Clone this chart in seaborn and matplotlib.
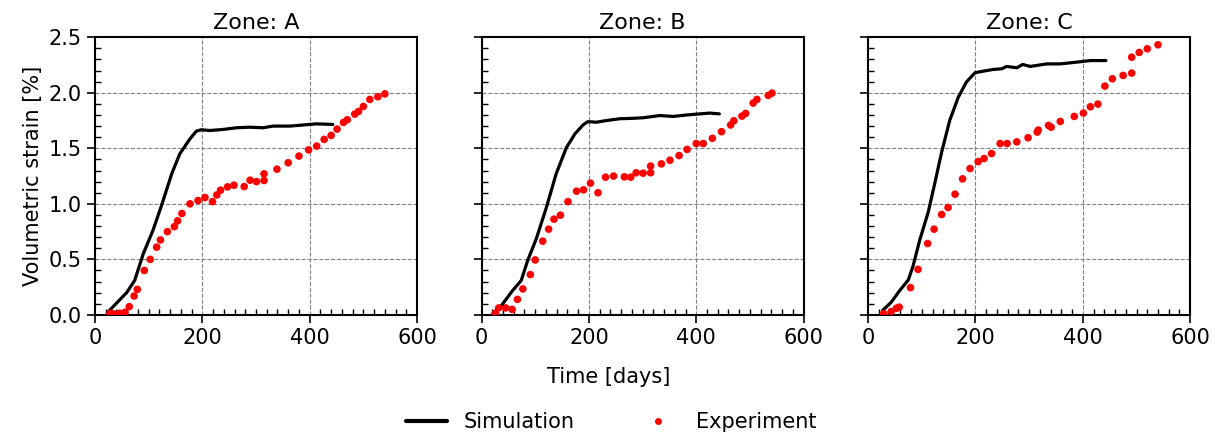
import numpy as np
import pandas as pd
import matplotlib
matplotlib.use("Agg")
import matplotlib.pyplot as plt
import seaborn as sns
from matplotlib.ticker import MultipleLocator
from matplotlib.lines import Line2D

# ---- datos ----
zonas = ["A", "B", "C"]

sim_t_A = [25, 40, 59, 74, 90, 108, 124, 143, 158, 177, 189, 198, 214, 239, 264, 288, 313, 332, 363, 388, 412, 443]
sim_v_A = [0.03, 0.105, 0.20, 0.31, 0.55, 0.76, 0.985, 1.27, 1.45, 1.585, 1.655, 1.667, 1.66, 1.67, 1.685, 1.69, 1.685, 1.70, 1.70, 1.71, 1.72, 1.715]

sim_t_B = [21, 37, 58, 74, 86, 102, 121, 139, 158, 174, 189, 198, 214, 233, 257, 282, 301, 332, 357, 382, 407, 425, 443]
sim_v_B = [0.01, 0.084, 0.22, 0.31, 0.49, 0.685, 0.97, 1.27, 1.505, 1.63, 1.71, 1.74, 1.735, 1.75, 1.766, 1.77, 1.775, 1.795, 1.787, 1.80, 1.81, 1.817, 1.81]

sim_t_C = [27, 43, 59, 75, 84, 96, 112, 124, 137, 152, 168, 183, 199, 215, 233, 249, 258, 277, 288, 302, 333, 358, 389, 414, 443]
sim_v_C = [0.04, 0.114, 0.22, 0.315, 0.444, 0.67, 0.925, 1.18, 1.465, 1.75, 1.96, 2.096, 2.18, 2.195, 2.21, 2.216, 2.237, 2.225, 2.255, 2.237, 2.26, 2.26, 2.276, 2.29, 2.29]

exp_t_A = [28, 34, 46, 56, 64, 73, 79, 92, 103, 115, 122, 135, 148, 154, 162, 177, 192, 205, 219, 227, 234, 247, 259, 278, 289, 301, 315, 315,
           339, 360, 380, 398, 413, 427, 440, 451, 463, 470, 484, 491, 500, 512, 527, 540]
exp_v_A = [0.015, 0.01, 0.015, 0.024, 0.075, 0.17, 0.23, 0.40, 0.50, 0.61, 0.675, 0.75, 0.795, 0.847, 0.913, 1.0, 1.03, 1.057, 1.02, 1.08, 1.123,
           1.153, 1.168, 1.156, 1.213, 1.20, 1.21, 1.27, 1.312, 1.37, 1.43, 1.486, 1.52, 1.58, 1.616, 1.673, 1.733, 1.757, 1.808, 1.832, 1.877,
           1.94, 1.964, 1.99]

exp_t_B = [26, 32, 45, 57, 67, 77, 91, 100, 114, 125, 135, 147, 161, 177, 190, 203, 217, 231, 246, 266, 278, 288, 301, 315, 315, 335, 351,
           368, 383, 400, 413, 430, 447, 464, 470, 485, 492, 506, 513, 534, 541]
exp_v_B = [0.015, 0.063, 0.063, 0.05, 0.14, 0.234, 0.363, 0.495, 0.664, 0.772, 0.862, 0.898, 1.02, 1.114, 1.126, 1.186, 1.10, 1.24, 1.25,
           1.243, 1.24, 1.28, 1.276, 1.28, 1.34, 1.36, 1.393, 1.435, 1.49, 1.543, 1.543, 1.59, 1.65, 1.71, 1.748, 1.79, 1.814, 1.907, 1.94,
           1.976, 1.997]

exp_t_C = [29, 43, 53, 58, 79, 93, 111, 123, 137, 149, 162, 176, 190, 205, 216, 230, 246, 259, 277, 298, 315, 317, 336, 341, 358, 384,
           401, 414, 428, 441, 455, 475, 491, 491, 505, 520, 540]
exp_v_C = [0.012, 0.03, 0.06, 0.07, 0.246, 0.41, 0.643, 0.772, 0.904, 0.967, 1.087, 1.225, 1.318, 1.38, 1.408, 1.453, 1.543, 1.543, 1.558,
           1.595, 1.646, 1.664, 1.706, 1.69, 1.742, 1.787, 1.817, 1.874, 1.898, 2.06, 2.126, 2.156, 2.177, 2.32, 2.363, 2.396, 2.432]

sim = pd.concat([
    pd.DataFrame({"zona": "A", "t": sim_t_A, "v": sim_v_A}),
    pd.DataFrame({"zona": "B", "t": sim_t_B, "v": sim_v_B}),
    pd.DataFrame({"zona": "C", "t": sim_t_C, "v": sim_v_C}),
])
exp = pd.concat([
    pd.DataFrame({"zona": "A", "t": exp_t_A, "v": exp_v_A}),
    pd.DataFrame({"zona": "B", "t": exp_t_B, "v": exp_v_B}),
    pd.DataFrame({"zona": "C", "t": exp_t_C, "v": exp_v_C}),
])

sns.set_style("ticks", {"axes.edgecolor": "black", "text.color": "black",
                        "xtick.color": "black", "ytick.color": "black",
                        "axes.labelcolor": "black"})
plt.rcParams["font.family"] = ["DejaVu Sans"]
plt.rcParams["font.size"] = 15

fig, axes = plt.subplots(1, 3, figsize=(12.17, 4.38), dpi=100, sharey=True)
fig.subplots_adjust(left=0.078, right=0.978, top=0.915, bottom=0.281, wspace=0.2)

for ax, z in zip(axes, zonas):
    sns.lineplot(data=sim[sim.zona == z], x="t", y="v", color="black", lw=2.3, ax=ax, sort=False)
    sns.scatterplot(data=exp[exp.zona == z], x="t", y="v", color="red", s=30, edgecolor="none", ax=ax, zorder=3)
    ax.set_xlim(0, 600)
    ax.set_ylim(0, 2.5)
    ax.xaxis.set_major_locator(MultipleLocator(200))
    ax.xaxis.set_minor_locator(MultipleLocator(20))
    ax.yaxis.set_major_locator(MultipleLocator(0.5))
    ax.yaxis.set_minor_locator(MultipleLocator(0.1))
    ax.tick_params(which="major", direction="out", length=6, width=1.2, labelsize=15, colors="black")
    ax.tick_params(which="minor", direction="in", length=4, width=1, colors="black")
    ax.grid(True, which="major", ls="--", color="grey", lw=0.8)
    for sp in ax.spines.values():
        sp.set_linewidth(1.5)
        sp.set_color("black")
        sp.set_visible(True)
    ax.set_title("Zone: " + z, fontsize=16, color="black")
    ax.set_xlabel("")
    ax.set_ylabel("")

axes[0].set_ylabel("Volumetric strain [%]", fontsize=15, color="black")
fig.text(0.5, 0.139, "Time [days]", ha="center", va="center", fontsize=15, color="black")

handles = [Line2D([], [], color="black", lw=3),
           Line2D([], [], color="red", marker="o", ls="none", markersize=4)]
leg = fig.legend(handles, ["Simulation", "Experiment"], loc="center", bbox_to_anchor=(0.502, 0.037),
                 ncol=2, frameon=False, fontsize=15, columnspacing=3, handlelength=2.0)
for t in leg.get_texts():
    t.set_color("black")

fig.savefig("out.png", dpi=100)
